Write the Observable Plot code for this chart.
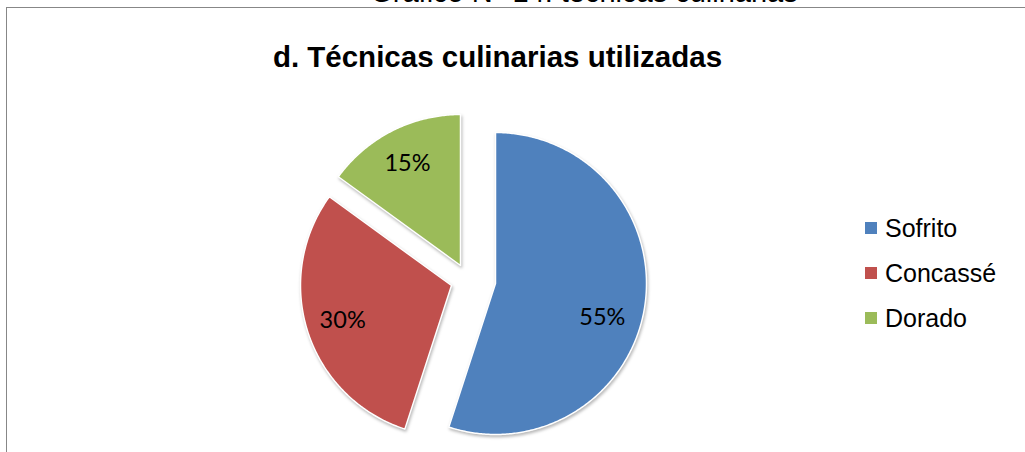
<!DOCTYPE html>
<html>
<head>
<meta charset="utf-8">
<script src="https://cdn.jsdelivr.net/npm/d3@7"></script>
<script src="https://cdn.jsdelivr.net/npm/@observablehq/plot@0.6"></script>
<style>
  html, body { margin: 0; padding: 0; background: #fff; }
  body { width: 1025px; height: 452px; overflow: hidden; position: relative; font-family: "Liberation Sans", Arial, sans-serif; }
  #chart { position: absolute; left: 0; top: 0; }
  #box { position: absolute; left: 6px; top: 7px; width: 1100px; height: 600px; border: 1.5px solid #878787; box-sizing: border-box; }
  #toptext { position: absolute; left: 0; width: 1168px; top: -24px; text-align: center; font-size: 29px; color: #000; white-space: nowrap; }
  #title { position: absolute; left: 0; width: 995px; top: 40px; text-align: center; font-family: "Liberation Sans", Arial, sans-serif; font-size: 29.5px; font-weight: bold; color: #000; white-space: nowrap; }
  #legend { position: absolute; left: 865px; top: 211px; }
  .item { position: relative; height: 45px; font-size: 25px; color: #000; line-height: 30px; }
  .sw { position: absolute; left: 0; top: 11px; width: 12px; height: 12px; }
  .lab { position: absolute; left: 20px; top: 2px; }
  #chart g[aria-label="line"] path { filter: drop-shadow(1.5px 2px 1.5px rgba(0,0,0,0.28)); }
</style>
</head>
<body>
<div id="box"></div>
<div id="toptext">Gráfico N° 14: técnicas culinarias</div>
<div id="title">d. Técnicas culinarias utilizadas</div>
<div id="chart"></div>
<div id="legend"></div>
<script>
// ---- data ----
const categories = ["Sofrito", "Concassé", "Dorado"];
const values = [55, 30, 15];
const labels = ["55%", "30%", "15%"];
const colors = ["#4F81BD", "#C0504D", "#9BBB59"];

// ---- layout (pixel space) ----
const W = 1025, H = 452;
const radius = 151;
// per-slice exploded centres
const sliceCentres = [[495, 283], [451, 285], [460, 265]];
const labelFrac = 0.73;
const labelNudge = [[-2, 17], [-4, 1], [-3, -4]];

const arcs = d3.pie().sort(null).value(d => d)(values);
const pts = [];
const lab = [];
arcs.forEach((a, i) => {
  const [cx, cy] = sliceCentres[i];
  const name = categories[i];
  pts.push({name, x: cx, y: cy});
  const n = Math.max(8, Math.ceil((a.endAngle - a.startAngle) / 0.01));
  for (let k = 0; k <= n; k++) {
    const t = a.startAngle + (a.endAngle - a.startAngle) * k / n;
    pts.push({name, x: cx + radius * Math.sin(t), y: cy - radius * Math.cos(t)});
  }
  const m = (a.startAngle + a.endAngle) / 2;
  lab.push({name, text: labels[i],
    x: cx + labelFrac * radius * Math.sin(m) + labelNudge[i][0],
    y: cy - labelFrac * radius * Math.cos(m) + labelNudge[i][1]});
});

const plot = Plot.plot({
  width: W, height: H, margin: 0,
  style: {background: "transparent", overflow: "visible"},
  x: {domain: [0, W], range: [0, W], axis: null},
  y: {domain: [0, H], range: [0, H], axis: null},
  color: {domain: categories, range: colors},
  marks: [
    Plot.line(pts, {x: "x", y: "y", z: "name", fill: "name", stroke: "white", strokeWidth: 1.5, curve: "linear-closed"}),
    Plot.text(lab, {x: "x", y: "y", text: "text", fill: "#000", fontSize: 23.5, fontFamily: "Lato, 'Open Sans', sans-serif", textAnchor: "middle", lineAnchor: "middle"})
  ]
});
document.getElementById("chart").appendChild(plot);

const leg = document.getElementById("legend");
categories.forEach((c, i) => {
  const it = document.createElement("div");
  it.className = "item";
  it.innerHTML = `<span class="sw" style="background:${colors[i]}"></span><span class="lab">${c}</span>`;
  leg.appendChild(it);
});
</script>
</body>
</html>
